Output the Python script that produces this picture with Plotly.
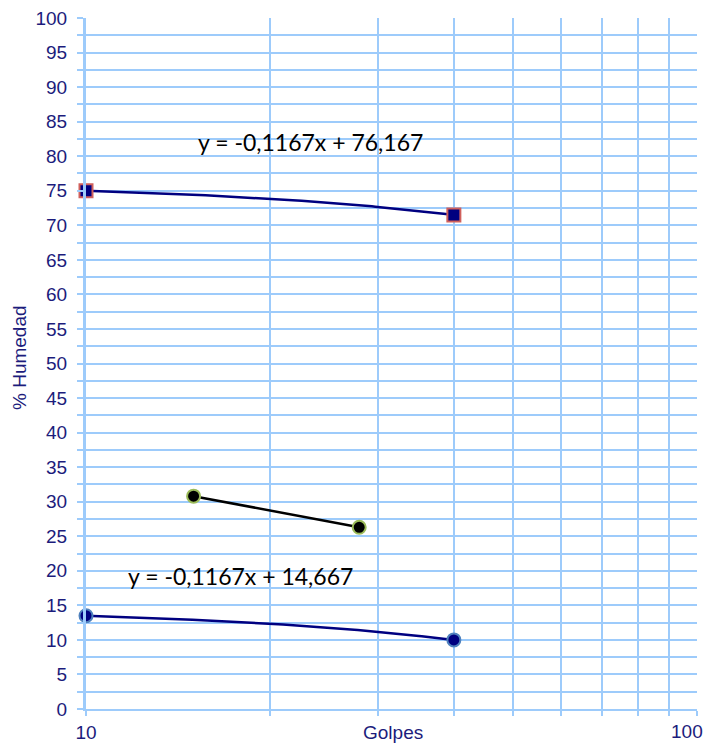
import numpy as np
import plotly.graph_objects as go

# Measured points (golpes vs % humedad)
golpes_ll = [10, 40]
humedad_ll = [75.0, 71.5]
golpes_lp = [15, 28]
humedad_lp = [30.8, 26.3]
golpes_w = [10, 40]
humedad_w = [13.5, 10.0]

# Linear trend coefficients shown in the labels
slope_ll, icpt_ll = -0.1167, 76.167
slope_w, icpt_w = -0.1167, 14.667
eq_ll = "y = -0,1167x + 76,167"
eq_w = "y = -0,1167x + 14,667"

x_grid = [10, 20, 30, 40, 50, 60, 70, 80, 90, 100]
x_text = ["10", "", "", "", "", "", "", "", "", ""]
x_end_label = "100"

navy = "#000080"
txt = "#1c1c7c"
grid = "#9dcbfb"
font_axis = "Liberation Sans Narrow, Arial Narrow, Liberation Sans, sans-serif"
font_eq = "Lato, Open Sans, sans-serif"

fig = go.Figure()

# trend lines on the log axis (curve between the measured points)
xs = np.linspace(golpes_ll[0], golpes_ll[-1], 80)
fig.add_trace(go.Scatter(x=xs, y=slope_ll * xs + icpt_ll, mode="lines",
                         line=dict(color=navy, width=2.5), hoverinfo="skip",
                         cliponaxis=False))
xs2 = np.linspace(golpes_w[0], golpes_w[-1], 80)
fig.add_trace(go.Scatter(x=xs2, y=slope_w * xs2 + icpt_w, mode="lines",
                         line=dict(color=navy, width=2.5), hoverinfo="skip",
                         cliponaxis=False))

fig.add_trace(go.Scatter(x=golpes_ll, y=humedad_ll, mode="markers", cliponaxis=False,
                         marker=dict(symbol="square", size=13, color=navy,
                                     line=dict(color="#d0605c", width=2))))
fig.add_trace(go.Scatter(x=golpes_lp, y=humedad_lp, mode="lines+markers", cliponaxis=False,
                         line=dict(color="black", width=2.5),
                         marker=dict(symbol="circle", size=13, color="black",
                                     line=dict(color="#9bbb59", width=2))))
fig.add_trace(go.Scatter(x=golpes_w, y=humedad_w, mode="markers", cliponaxis=False,
                         marker=dict(symbol="circle", size=13, color=navy,
                                     line=dict(color="#4f81bd", width=2))))

fig.update_layout(
    width=710, height=747,
    margin=dict(l=86, r=13, t=18, b=38),
    paper_bgcolor="white", plot_bgcolor="white",
    showlegend=False,
    xaxis=dict(type="log", range=[1, 2], tickvals=x_grid, ticktext=x_text,
               automargin=False,
               showgrid=True, gridcolor=grid, gridwidth=2,
               ticks="outside", ticklen=5, tickcolor=grid, tickwidth=2,
               showline=True, linecolor=grid, linewidth=2, zeroline=False,
               tickfont=dict(family=font_axis, size=19, color=txt)),
    yaxis=dict(range=[0, 100], dtick=5, tick0=0, automargin=False,
               ticklabelstandoff=6,
               showgrid=True, gridcolor=grid, gridwidth=2,
               ticks="outside", ticklen=6, tickcolor=grid, tickwidth=2,
               minor=dict(dtick=2.5, showgrid=True, gridcolor=grid, gridwidth=2,
                          ticks="outside", ticklen=6, tickcolor=grid, tickwidth=2),
               showline=True, linecolor=grid, linewidth=3, zeroline=False,
               tickfont=dict(family=font_axis, size=19, color=txt)),
    annotations=[
        dict(text=eq_ll, xref="paper", yref="paper", x=0.367, y=0.82,
             xanchor="center", yanchor="middle", showarrow=False,
             font=dict(family=font_eq, size=23, color="black")),
        dict(text=eq_w, xref="paper", yref="paper", x=0.2525, y=0.193,
             xanchor="center", yanchor="middle", showarrow=False,
             font=dict(family=font_eq, size=23, color="black")),
        dict(text=x_end_label, xref="paper", yref="paper", x=1.013, y=-0.032,
             xanchor="right", yanchor="middle", showarrow=False,
             font=dict(family=font_axis, size=19, color=txt)),
        dict(text="Golpes", xref="paper", yref="paper", x=0.503, y=-0.034,
             xanchor="center", yanchor="middle", showarrow=False,
             font=dict(family=font_axis, size=19, color=txt)),
        dict(text="% Humedad", xref="paper", yref="paper", x=-0.108, y=0.508,
             xanchor="center", yanchor="middle", textangle=-90, showarrow=False,
             font=dict(family=font_axis, size=19, color=txt)),
    ],
)

fig.write_html("out.html")
